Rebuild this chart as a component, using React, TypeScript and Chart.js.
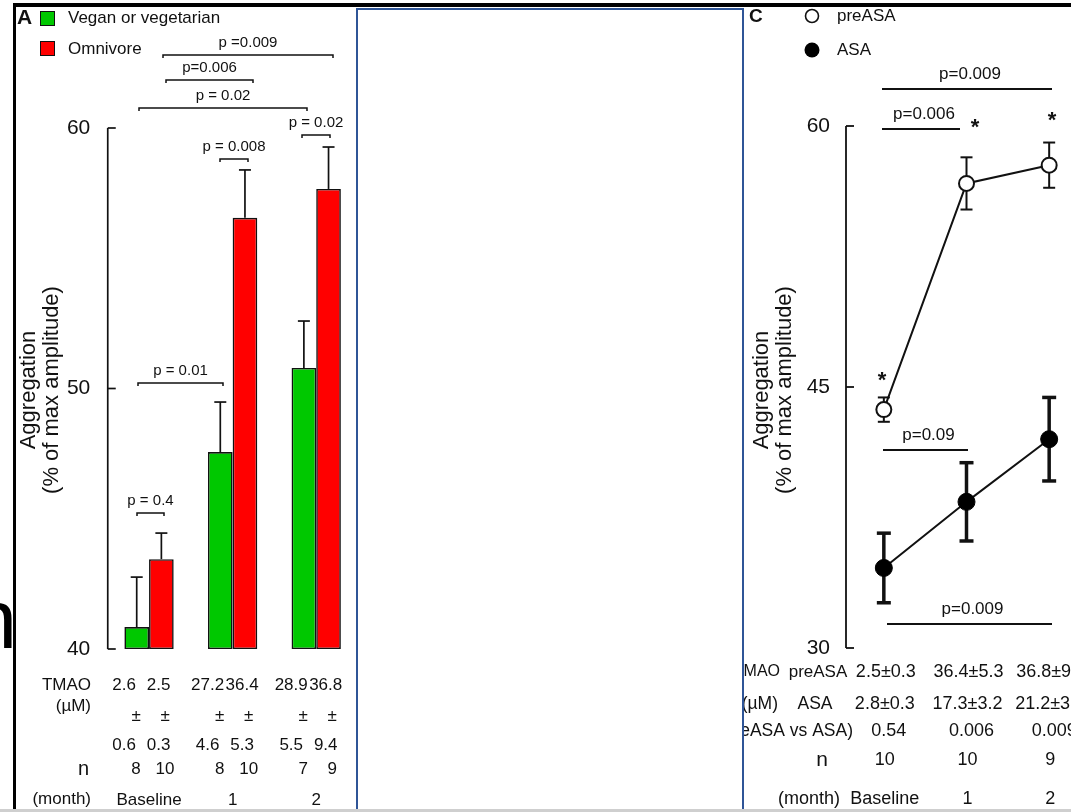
import React, { useEffect, useRef } from 'react';
import { Chart, registerables } from 'chart.js';

Chart.register(...registerables);

const FONT = '"Liberation Sans", Arial, Helvetica, sans-serif';
const INK = '#111111';

// ---------------- data: panel A ----------------
const months = ['Baseline', '1', '2'];
const vegValues = [40.84, 47.56, 50.79];
const vegErrors = [1.92, 1.92, 1.8];
const omniValues = [43.45, 56.55, 57.66];
const omniErrors = [1.0, 1.84, 1.61];
const aggTicksA = [40, 50, 60];
const vegTmao = ['2.6', '27.2', '28.9'];
const vegTmaoSd = ['0.6', '4.6', '5.5'];
const omniTmao = ['2.5', '36.4', '36.8'];
const omniTmaoSd = ['0.3', '5.3', '9.4'];
const vegN = ['8', '8', '7'];
const omniN = ['10', '10', '9'];
const pLabelsA = ['p =0.009', 'p=0.006', 'p = 0.02', 'p = 0.02', 'p = 0.008', 'p = 0.01', 'p = 0.4'];

// ---------------- data: panel C ----------------
const preAsaValues = [43.7, 56.7, 57.75];
const preAsaErrors = [0.7, 1.5, 1.3];
const asaValues = [34.6, 38.4, 42.0];
const asaErrors = [2.0, 2.25, 2.4];
const aggTicksC = [30, 45, 60];
const preAsaTmao = ['2.5±0.3', '36.4±5.3', '36.8±9.4'];
const asaTmao = ['2.8±0.3', '17.3±3.2', '21.2±3.6'];
const pPreVsAsa = ['0.54', '0.006', '0.009'];
const nC = ['10', '10', '9'];
const pLabelsC = ['p=0.009', 'p=0.006', 'p=0.09', 'p=0.009'];

const RX = 700; // page x of right canvas

function txt(ctx: CanvasRenderingContext2D, s: string, x: number, y: number, size: number, align: CanvasTextAlign = 'center', weight = 'normal') {
  ctx.save();
  ctx.font = `${weight} ${size}px ${FONT}`;
  ctx.fillStyle = INK;
  ctx.textAlign = align;
  ctx.textBaseline = 'middle';
  ctx.fillText(s, x, y);
  ctx.restore();
}

function rotTxt(ctx: CanvasRenderingContext2D, s: string, x: number, y: number, size: number) {
  ctx.save();
  ctx.translate(x, y);
  ctx.rotate(-Math.PI / 2);
  ctx.font = `${size}px ${FONT}`;
  ctx.fillStyle = INK;
  ctx.textAlign = 'center';
  ctx.textBaseline = 'middle';
  ctx.fillText(s, 0, 0);
  ctx.restore();
}

function line(ctx: CanvasRenderingContext2D, pts: number[][], w: number) {
  ctx.save();
  ctx.strokeStyle = INK;
  ctx.lineWidth = w;
  ctx.beginPath();
  pts.forEach((p, i) => (i === 0 ? ctx.moveTo(p[0], p[1]) : ctx.lineTo(p[0], p[1])));
  ctx.stroke();
  ctx.restore();
}

const panelAPlugin = {
  id: 'panelA',
  afterDatasetsDraw(chart: any) {
    const ctx = chart.ctx as CanvasRenderingContext2D;
    const ys = chart.scales.y;
    [
      [vegValues, vegErrors],
      [omniValues, omniErrors],
    ].forEach(([vals, errs], d) => {
      const meta = chart.getDatasetMeta(d);
      meta.data.forEach((bar: any, i: number) => {
        const x = bar.x;
        const y0 = ys.getPixelForValue(vals[i]);
        const y1 = ys.getPixelForValue(vals[i] + errs[i]);
        line(ctx, [[x, y0], [x, y1]], 1.7);
        line(ctx, [[x - 6, y1], [x + 6, y1]], 1.7);
      });
    });
  },
  afterDraw(chart: any) {
    const ctx = chart.ctx as CanvasRenderingContext2D;
    const ys = chart.scales.y;
    const xs = chart.scales.x;
    const area = chart.chartArea;
    // axis bracket
    const ax = area.left + 0.5;
    const yTop = ys.getPixelForValue(aggTicksA[aggTicksA.length - 1]);
    const yBot = ys.getPixelForValue(aggTicksA[0]);
    line(ctx, [[ax, yTop], [ax, yBot]], 1.7);
    aggTicksA.forEach((v) => {
      const yy = ys.getPixelForValue(v);
      line(ctx, [[ax, yy], [ax + 8, yy]], 1.7);
    });
    // axis title
    rotTxt(ctx, 'Aggregation', 29, 390, 22);
    rotTxt(ctx, '(% of max amplitude)', 52, 390, 22);
    // brackets
    const br = [
      [163, 333, 55],
      [166, 253, 80],
      [139, 307, 108],
      [302, 330, 135],
      [220, 248, 159],
      [138, 223, 383],
      [137, 164, 513],
    ];
    br.forEach(([x1, x2, y], k) => {
      line(ctx, [[x1, y + 3], [x1, y], [x2, y], [x2, y + 3]], 1.5);
      txt(ctx, pLabelsA[k], (x1 + x2) / 2, y - 12.5, 15);
    });
    // legend
    txt(ctx, 'A', 17, 18, 21, 'left', 'bold');
    ctx.save();
    ctx.fillStyle = '#00c800';
    ctx.fillRect(40, 11, 15, 15);
    ctx.fillStyle = '#ff0000';
    ctx.fillRect(40, 41, 15, 15);
    ctx.strokeStyle = INK;
    ctx.lineWidth = 1;
    ctx.strokeRect(40.5, 11.5, 14, 14);
    ctx.strokeRect(40.5, 41.5, 14, 14);
    ctx.restore();
    txt(ctx, chart.data.datasets[0].label, 68, 18, 17, 'left');
    txt(ctx, chart.data.datasets[1].label, 68, 49, 17, 'left');
    // table
    txt(ctx, 'TMAO', 91, 685, 17, 'right');
    txt(ctx, '(\u00b5M)', 91, 706, 17, 'right');
    txt(ctx, 'n', 89, 769, 20, 'right');
    txt(ctx, '(month)', 91, 799, 17, 'right');
    months.forEach((m, i) => {
      const c = xs.getPixelForValue(i);
      txt(ctx, vegTmao[i], c - 25, 685, 17);
      txt(ctx, omniTmao[i], c + 9.5, 685, 17);
      txt(ctx, '\u00b1', c - 13, 716, 17);
      txt(ctx, '\u00b1', c + 16, 716, 17);
      txt(ctx, vegTmaoSd[i], c - 25, 745, 17);
      txt(ctx, omniTmaoSd[i], c + 9.5, 745, 17);
      txt(ctx, vegN[i], c - 13, 769, 17);
      txt(ctx, omniN[i], c + 16, 769, 17);
      txt(ctx, m, c, 800, 17);
    });
    // stray large glyph at the left edge
    ctx.save();
    ctx.font = `84px ${FONT}`;
    ctx.fillStyle = '#000';
    ctx.textAlign = 'right';
    ctx.textBaseline = 'alphabetic';
    ctx.fillText('n', 17, 648);
    ctx.restore();
  },
};

const panelCPlugin = {
  id: 'panelC',
  beforeDatasetsDraw(chart: any) {
    const ctx = chart.ctx as CanvasRenderingContext2D;
    const ys = chart.scales.y;
    [
      [preAsaValues, preAsaErrors, 2, 6],
      [asaValues, asaErrors, 3.5, 7],
    ].forEach(([vals, errs, w, cap]: any, d) => {
      const meta = chart.getDatasetMeta(d);
      meta.data.forEach((pt: any, i: number) => {
        const x = pt.x;
        const y1 = ys.getPixelForValue(vals[i] + errs[i]);
        const y2 = ys.getPixelForValue(vals[i] - errs[i]);
        line(ctx, [[x, y1], [x, y2]], w);
        line(ctx, [[x - cap, y1], [x + cap, y1]], w);
        line(ctx, [[x - cap, y2], [x + cap, y2]], w);
      });
    });
  },
  afterDraw(chart: any) {
    const ctx = chart.ctx as CanvasRenderingContext2D;
    const ys = chart.scales.y;
    const xs = chart.scales.x;
    const area = chart.chartArea;
    const ax = area.left + 3.5;
    const yTop = ys.getPixelForValue(aggTicksC[aggTicksC.length - 1]);
    const yBot = ys.getPixelForValue(aggTicksC[0]);
    line(ctx, [[ax, yTop], [ax, yBot]], 1.8);
    aggTicksC.forEach((v) => {
      const yy = ys.getPixelForValue(v);
      line(ctx, [[ax, yy], [ax + 8, yy]], 1.8);
    });
    rotTxt(ctx, 'Aggregation', 762 - RX, 390, 22);
    rotTxt(ctx, '(% of max amplitude)', 785 - RX, 390, 22);
    // significance lines
    const br = [
      [882, 1052, 89],
      [882, 960, 129],
      [883, 968, 450],
      [887, 1052, 624],
    ];
    br.forEach(([x1, x2, y], k) => {
      line(ctx, [[x1 - RX, y], [x2 - RX, y]], 1.8);
      txt(ctx, pLabelsC[k], (x1 + x2) / 2 + 3 - RX, y - 14.5, 17);
    });
    txt(ctx, '*', 975 - RX, 128, 22, 'center', 'bold');
    txt(ctx, '*', 1052 - RX, 121, 22, 'center', 'bold');
    txt(ctx, '*', 882 - RX, 381, 22, 'center', 'bold');
    // legend
    txt(ctx, 'C', 749 - RX, 17, 19, 'left', 'bold');
    ctx.save();
    ctx.strokeStyle = INK;
    ctx.lineWidth = 1.6;
    ctx.fillStyle = '#fff';
    ctx.beginPath();
    ctx.arc(812 - RX, 16, 6.5, 0, Math.PI * 2);
    ctx.fill();
    ctx.stroke();
    ctx.fillStyle = '#000';
    ctx.beginPath();
    ctx.arc(812 - RX, 50, 7.5, 0, Math.PI * 2);
    ctx.fill();
    ctx.restore();
    txt(ctx, chart.data.datasets[0].label, 837 - RX, 16, 17, 'left');
    txt(ctx, chart.data.datasets[1].label, 837 - RX, 50, 17, 'left');
    // table
    txt(ctx, 'TMAO', 780 - RX, 672, 16, 'right');
    txt(ctx, 'preASA', 818 - RX, 672, 17);
    txt(ctx, '(\u00b5M)', 778 - RX, 704, 17.5, 'right');
    txt(ctx, 'ASA', 815 - RX, 704, 17.5);
    txt(ctx, '(preASA vs ASA)', 853 - RX, 731, 17.5, 'right');
    txt(ctx, 'n', 822 - RX, 760, 21);
    txt(ctx, '(month)', 809 - RX, 799, 18);
    months.forEach((m, i) => {
      const c = xs.getPixelForValue(i);
      txt(ctx, preAsaTmao[i], c + 2, 672, 18);
      txt(ctx, asaTmao[i], c + 1, 704, 18);
      txt(ctx, pPreVsAsa[i], c + 5, 731, 18);
      txt(ctx, nC[i], c + 1, 760, 18);
      txt(ctx, m, c + 1, 799, 18);
    });
  },
};

function PanelA() {
  const ref = useRef<HTMLCanvasElement | null>(null);
  useEffect(() => {
    if (!ref.current) return;
    const chart = new Chart(ref.current, {
      type: 'bar',
      data: {
        labels: months,
        datasets: [
          { label: 'Vegan or vegetarian', data: vegValues, backgroundColor: '#00c800', borderColor: INK, borderWidth: 1.6, borderSkipped: false, base: 40 } as any,
          { label: 'Omnivore', data: omniValues, backgroundColor: '#ff0000', borderColor: INK, borderWidth: 1.6, borderSkipped: false, base: 40 } as any,
        ],
      },
      options: {
        animation: false,
        responsive: false,
        devicePixelRatio: 1,
        layout: { padding: { left: 0, right: 2, top: 128, bottom: 163 } },
        datasets: { bar: { categoryPercentage: 0.59, barPercentage: 1 } },
        plugins: { legend: { display: false }, tooltip: { enabled: false } },
        scales: {
          x: { display: false, offset: true },
          y: {
            min: 40,
            max: 60,
            afterFit: (s: any) => { s.width = 107.25; },
            afterBuildTicks: (s: any) => { s.ticks = aggTicksA.map((v) => ({ value: v })); },
            grid: { display: false, drawTicks: false },
            border: { display: false },
            ticks: { font: { family: FONT, size: 21 }, color: INK, padding: 17 },
          },
        },
      } as any,
      plugins: [panelAPlugin],
    });
    return () => chart.destroy();
  }, []);
  return <canvas ref={ref} width={360} height={812} style={{ position: 'absolute', left: 0, top: 0 }} />;
}

function PanelC() {
  const ref = useRef<HTMLCanvasElement | null>(null);
  useEffect(() => {
    if (!ref.current) return;
    const chart = new Chart(ref.current, {
      type: 'line',
      data: {
        labels: months,
        datasets: [
          { label: 'preASA', data: preAsaValues, borderColor: INK, borderWidth: 2, pointRadius: 7.5, pointBackgroundColor: '#ffffff', pointBorderColor: INK, pointBorderWidth: 2 },
          { label: 'ASA', data: asaValues, borderColor: INK, borderWidth: 2, pointRadius: 8.5, pointBackgroundColor: '#000000', pointBorderColor: '#000000', pointBorderWidth: 1 },
        ],
      },
      options: {
        animation: false,
        responsive: false,
        devicePixelRatio: 1,
        layout: { padding: { left: 0, right: 8.5, top: 126, bottom: 164 } },
        plugins: { legend: { display: false }, tooltip: { enabled: false } },
        scales: {
          x: { display: false, offset: true },
          y: {
            min: 30,
            max: 60,
            afterFit: (s: any) => { s.width = 142.5; },
            afterBuildTicks: (s: any) => { s.ticks = aggTicksC.map((v) => ({ value: v })); },
            grid: { display: false, drawTicks: false },
            border: { display: false },
            ticks: { font: { family: FONT, size: 21 }, color: INK, padding: 12.5 },
          },
        },
      } as any,
      plugins: [panelCPlugin],
    });
    return () => chart.destroy();
  }, []);
  return <canvas ref={ref} width={400} height={812} style={{ position: 'absolute', left: RX, top: 0 }} />;
}

export default function App() {
  return (
    <div style={{ position: 'absolute', left: 0, top: 0, width: 1071, height: 812, overflow: 'hidden', background: '#fff' }}>
      <PanelA />
      <PanelC />
      <div style={{ position: 'absolute', left: 356, top: 8, width: 388, height: 812, boxSizing: 'border-box', border: '2.5px solid #2f5597', background: '#fff' }} />
      <div style={{ position: 'absolute', left: 13, top: 3, width: 1058, height: 4, background: '#000' }} />
      <div style={{ position: 'absolute', left: 13, top: 3, width: 3, height: 809, background: '#000' }} />
      <div style={{ position: 'absolute', left: 0, top: 809, width: 1071, height: 3, background: '#cfcfcf' }} />
    </div>
  );
}
